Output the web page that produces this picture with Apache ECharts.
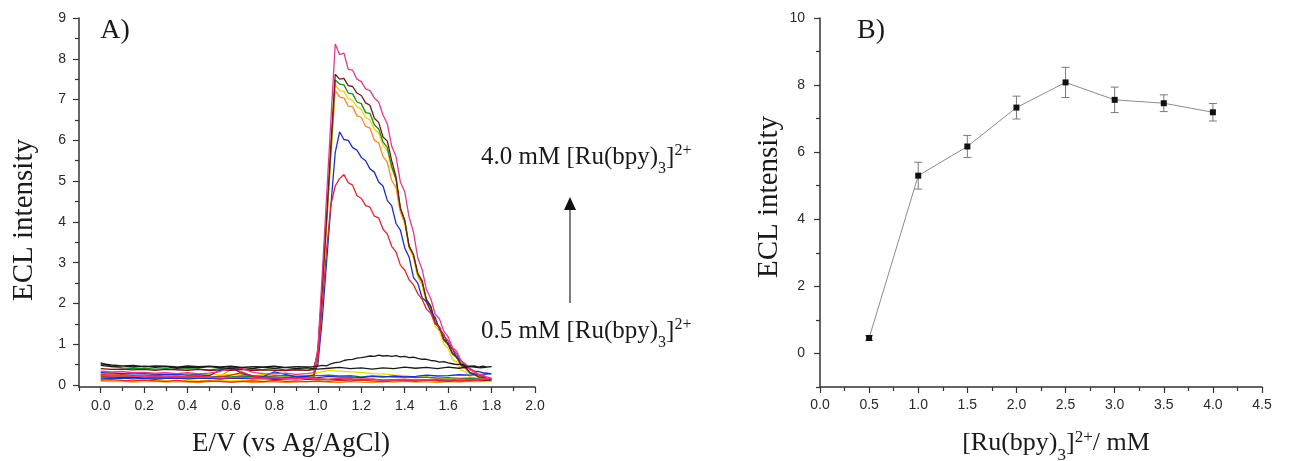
<!DOCTYPE html>
<html>
<head>
<meta charset="utf-8">
<script src="https://cdn.jsdelivr.net/npm/echarts@6/dist/echarts.min.js"></script>
<style>
  html, body { margin: 0; padding: 0; background: #fff; }
  #chart { width: 1292px; height: 461px; }
</style>
</head>
<body>
<div id="chart"></div>
<script>
// Sweep potential (V vs Ag/AgCl): forward scan 0 -> 1.8 V, then back to 0 V
const potential = [
  0.00,0.05,0.10,0.15,0.20,0.25,0.30,0.35,0.40,0.45,0.50,0.55,0.60,0.65,0.70,0.75,0.80,0.85,0.90,0.95,0.98,
  1.00,1.02,1.04,1.06,1.08,1.10,1.12,1.14,1.16,1.18,1.20,1.22,1.24,1.26,1.28,1.30,1.32,1.34,1.36,1.38,
  1.40,1.42,1.44,1.46,1.48,1.50,1.52,1.54,1.56,1.58,1.60,1.62,1.64,1.66,1.68,1.70,1.72,1.74,1.76,1.78,1.80,
  1.75,1.70,1.65,1.60,1.55,1.50,1.45,1.40,1.35,1.30,1.25,1.20,1.15,1.10,1.05,1.00,0.95,0.90,
  0.85,0.80,0.75,0.70,0.65,0.60,0.55,0.50,0.45,0.40,0.35,0.30,0.25,0.20,0.15,0.10,0.05,0.00
];

// ECL traces, one per [Ru(bpy)3]2+ concentration (same order as `potential`)
const ecl05 = [
  0.52,0.49,0.47,0.48,0.45,0.47,0.46,0.44,0.47,0.45,0.46,0.44,0.46,0.43,0.45,0.44,0.46,0.43,0.45,0.44,0.45,
  0.46,0.48,0.47,0.52,0.55,0.56,0.60,0.62,0.63,0.66,0.67,0.69,0.71,0.70,0.73,0.71,0.72,0.70,0.72,0.69,
  0.70,0.67,0.68,0.65,0.63,0.63,0.60,0.59,0.56,0.57,0.54,0.52,0.50,0.51,0.47,0.46,0.47,0.44,0.46,0.44,0.45,
  0.42,0.45,0.41,0.44,0.40,0.43,0.41,0.44,0.40,0.42,0.39,0.42,0.40,0.43,0.41,0.39,0.42,0.40,
  0.43,0.41,0.44,0.40,0.43,0.41,0.42,0.45,0.42,0.44,0.41,0.45,0.43,0.46,0.44,0.47,0.45,0.48
];
const ecl10 = [
  0.26,0.24,0.25,0.23,0.22,0.24,0.21,0.22,0.20,0.21,0.19,0.20,0.24,0.30,0.22,0.18,0.19,0.17,0.18,0.16,0.20,
  0.62,1.95,3.30,4.42,4.88,5.06,5.16,4.96,4.90,4.64,4.58,4.40,4.36,4.14,4.10,3.82,3.70,3.40,3.26,2.94,
  2.82,2.58,2.46,2.24,2.10,1.86,1.76,1.50,1.42,1.20,1.08,0.88,0.76,0.58,0.50,0.38,0.32,0.24,0.22,0.16,0.15,
  0.12,0.10,0.11,0.09,0.10,0.12,0.09,0.11,0.10,0.08,0.10,0.12,0.10,0.11,0.09,0.10,0.08,0.10,
  0.09,0.11,0.08,0.10,0.09,0.07,0.09,0.10,0.08,0.09,0.11,0.09,0.10,0.12,0.10,0.11,0.13,0.12
];
const ecl15 = [
  0.30,0.29,0.28,0.27,0.28,0.26,0.25,0.26,0.24,0.25,0.23,0.36,0.44,0.28,0.22,0.21,0.32,0.26,0.20,0.21,0.24,
  0.50,1.60,3.00,4.40,5.70,6.21,6.02,6.00,5.82,5.76,5.58,5.50,5.30,5.22,4.98,4.88,4.52,4.40,3.96,3.80,
  3.36,3.14,2.64,2.50,2.14,2.04,1.80,1.66,1.36,1.24,0.98,0.88,0.66,0.60,0.44,0.40,0.34,0.33,0.30,0.29,0.27,
  0.26,0.24,0.25,0.23,0.22,0.24,0.21,0.20,0.22,0.19,0.21,0.18,0.20,0.19,0.21,0.18,0.17,0.19,
  0.18,0.16,0.18,0.17,0.16,0.18,0.15,0.17,0.16,0.15,0.17,0.16,0.14,0.16,0.15,0.17,0.16,0.15
];
const ecl20 = [
  0.22,0.20,0.21,0.19,0.20,0.18,0.19,0.17,0.19,0.18,0.17,0.22,0.38,0.33,0.20,0.16,0.17,0.15,0.16,0.15,0.17,
  0.75,2.30,3.90,5.60,7.22,7.06,7.04,6.84,6.82,6.60,6.56,6.34,6.30,6.00,5.94,5.60,5.46,5.02,4.84,4.24,
  3.96,3.40,3.14,2.70,2.48,2.06,1.86,1.52,1.38,1.10,0.98,0.76,0.66,0.46,0.40,0.28,0.25,0.18,0.17,0.12,0.11,
  0.08,0.09,0.07,0.08,0.06,0.08,0.07,0.09,0.07,0.08,0.06,0.07,0.08,0.06,0.07,0.09,0.08,0.07,
  0.06,0.08,0.07,0.06,0.08,0.07,0.09,0.08,0.06,0.07,0.08,0.07,0.09,0.08,0.07,0.09,0.08,0.10
];
const ecl25 = [
  0.34,0.32,0.33,0.30,0.31,0.29,0.30,0.28,0.30,0.27,0.29,0.33,0.42,0.40,0.31,0.28,0.27,0.29,0.26,0.28,0.30,
  0.90,2.70,4.60,6.50,8.36,8.10,8.14,7.74,7.72,7.50,7.44,7.26,7.22,7.04,6.94,6.62,6.40,5.86,5.60,4.98,
  4.74,4.12,3.76,3.12,2.84,2.34,2.12,1.74,1.62,1.32,1.18,0.92,0.82,0.58,0.52,0.37,0.34,0.26,0.25,0.19,0.17,
  0.14,0.13,0.15,0.12,0.14,0.13,0.12,0.14,0.13,0.12,0.14,0.15,0.13,0.16,0.14,0.15,0.17,0.15,
  0.16,0.18,0.16,0.17,0.19,0.18,0.17,0.19,0.18,0.20,0.19,0.21,0.20,0.22,0.21,0.23,0.22,0.24
];
const ecl30 = [
  0.40,0.38,0.39,0.37,0.38,0.36,0.38,0.37,0.36,0.38,0.35,0.37,0.36,0.38,0.35,0.37,0.36,0.35,0.37,0.36,0.38,
  0.80,2.40,4.10,5.90,7.62,7.50,7.52,7.34,7.32,7.16,7.10,6.92,6.86,6.54,6.44,6.08,5.98,5.50,5.10,4.34,
  4.04,3.40,3.20,2.74,2.56,2.08,1.92,1.52,1.42,1.12,1.02,0.78,0.70,0.50,0.44,0.30,0.27,0.20,0.19,0.14,0.12,
  0.11,0.12,0.10,0.12,0.11,0.13,0.12,0.11,0.13,0.12,0.14,0.13,0.15,0.14,0.13,0.15,0.14,0.16,
  0.15,0.14,0.16,0.15,0.17,0.16,0.15,0.17,0.16,0.18,0.17,0.16,0.18,0.17,0.19,0.18,0.20,0.19
];
const ecl35 = [
  0.55,0.45,0.42,0.40,0.41,0.39,0.40,0.38,0.40,0.39,0.37,0.40,0.38,0.39,0.37,0.38,0.40,0.37,0.38,0.36,0.38,
  0.78,2.35,4.00,5.75,7.48,7.38,7.36,7.16,7.14,6.94,6.90,6.68,6.66,6.38,6.28,5.96,5.82,5.36,5.04,4.32,
  4.04,3.42,3.20,2.72,2.54,2.10,1.94,1.54,1.42,1.10,1.00,0.76,0.68,0.48,0.42,0.30,0.27,0.20,0.19,0.15,0.14,
  0.15,0.17,0.16,0.18,0.17,0.19,0.18,0.20,0.19,0.21,0.22,0.20,0.23,0.22,0.24,0.23,0.22,0.21,
  0.23,0.22,0.20,0.21,0.22,0.20,0.21,0.19,0.20,0.21,0.19,0.20,0.22,0.21,0.23,0.22,0.24,0.23
];
const ecl40 = [
  0.32,0.30,0.28,0.29,0.27,0.28,0.26,0.27,0.25,0.27,0.26,0.24,0.26,0.25,0.23,0.25,0.24,0.22,0.24,0.23,0.25,
  0.76,2.30,3.95,5.65,7.36,7.22,7.20,7.02,6.98,6.82,6.76,6.56,6.50,6.28,6.18,5.88,5.74,5.30,5.04,4.30,
  3.98,3.36,3.12,2.64,2.44,2.00,1.82,1.44,1.32,1.00,0.90,0.62,0.56,0.36,0.32,0.20,0.18,0.12,0.11,0.09,0.08,
  0.08,0.11,0.12,0.15,0.16,0.19,0.20,0.23,0.24,0.27,0.28,0.31,0.32,0.34,0.36,0.30,0.20,0.16,
  0.14,0.12,0.13,0.11,0.12,0.10,0.11,0.12,0.10,0.11,0.09,0.10,0.11,0.09,0.10,0.11,0.10,0.12
];

// Peak ECL intensity vs concentration
const concentration = [0.5, 1.0, 1.5, 2.0, 2.5, 3.0, 3.5, 4.0];
const meanIntensity = [0.46, 5.30, 6.17, 7.33, 8.08, 7.56, 7.46, 7.19];
const stdDev = [0.07, 0.40, 0.33, 0.34, 0.45, 0.38, 0.25, 0.26];

// Axis tick positions and labels
const potentialTicks = [0.0, 0.2, 0.4, 0.6, 0.8, 1.0, 1.2, 1.4, 1.6, 1.8, 2.0];
const potentialMinorTicks = [-0.1, 0.1, 0.3, 0.5, 0.7, 0.9, 1.1, 1.3, 1.5, 1.7, 1.9];
const intensityTicksA = [0, 1, 2, 3, 4, 5, 6, 7, 8, 9];
const intensityMinorTicksA = [0.5, 1.5, 2.5, 3.5, 4.5, 5.5, 6.5, 7.5, 8.5];
const concTicks = [0.0, 0.5, 1.0, 1.5, 2.0, 2.5, 3.0, 3.5, 4.0, 4.5];
const concMinorTicks = [0.25, 0.75, 1.25, 1.75, 2.25, 2.75, 3.25, 3.75, 4.25];
const intensityTicksB = [0, 2, 4, 6, 8, 10];
const intensityMinorTicksB = [-1, 1, 3, 5, 7, 9];

const SERIF = '"Liberation Serif", "Times New Roman", serif';
const SANS = '"Liberation Sans", Arial, sans-serif';
const AXIS_COLOR = '#333';
const TEXT_COLOR = '#1a1a1a';

function mainAxis(gridIndex, position, min, max, ticks, fmt, margin) {
  return {
    type: 'value', gridIndex, position, offset: 0, min, max,
    axisLine: { show: true, onZero: false, lineStyle: { color: AXIS_COLOR, width: 1.5 } },
    axisTick: { show: true, inside: false, length: 6, customValues: ticks, lineStyle: { color: AXIS_COLOR, width: 1.2 } },
    axisLabel: { show: true, customValues: ticks, formatter: fmt, margin, color: '#2a2a2a', fontFamily: SANS, fontSize: 14 },
    splitLine: { show: false }
  };
}
function minorAxis(gridIndex, position, min, max, ticks) {
  return {
    type: 'value', gridIndex, position, offset: 0, min, max,
    axisLine: { show: false, onZero: false },
    axisTick: { show: true, inside: false, length: 4, customValues: ticks, lineStyle: { color: AXIS_COLOR, width: 1.2 } },
    axisLabel: { show: false },
    splitLine: { show: false }
  };
}

const traces = [
  { name: '2.0 mM', data: ecl20, color: '#ff8a1c' },
  { name: '4.0 mM', data: ecl40, color: '#f2d400' },
  { name: '3.5 mM', data: ecl35, color: '#178a22' },
  { name: '3.0 mM', data: ecl30, color: '#7a1414' },
  { name: '1.5 mM', data: ecl15, color: '#1f2ec8' },
  { name: '1.0 mM', data: ecl10, color: '#e3262a' },
  { name: '2.5 mM', data: ecl25, color: '#e23a90' },
  { name: '0.5 mM', data: ecl05, color: '#1a1a1a' }
];

const traceSeries = traces.map(t => ({
  type: 'line', name: t.name, xAxisIndex: 0, yAxisIndex: 0,
  data: potential.map((e, i) => [e, t.data[i]]),
  showSymbol: false, symbol: 'none', smooth: false,
  lineStyle: { color: t.color, width: 1.3 },
  itemStyle: { color: t.color },
  z: 2
}));

const errorBarSeries = {
  type: 'custom', name: 'sd', xAxisIndex: 2, yAxisIndex: 2,
  data: concentration.map((c, i) => [c, meanIntensity[i], stdDev[i]]),
  encode: { x: 0, y: 1 },
  renderItem: function (params, api) {
    const x = api.value(0), y = api.value(1), e = api.value(2);
    const top = api.coord([x, y + e]);
    const bot = api.coord([x, y - e]);
    const hw = 4;
    const st = { stroke: '#7a7a7a', lineWidth: 1 };
    return {
      type: 'group',
      children: [
        { type: 'line', shape: { x1: top[0], y1: top[1], x2: bot[0], y2: bot[1] }, style: st },
        { type: 'line', shape: { x1: top[0] - hw, y1: top[1], x2: top[0] + hw, y2: top[1] }, style: st },
        { type: 'line', shape: { x1: bot[0] - hw, y1: bot[1], x2: bot[0] + hw, y2: bot[1] }, style: st }
      ]
    };
  },
  z: 3
};

const meanSeries = {
  type: 'line', name: 'mean', xAxisIndex: 2, yAxisIndex: 2,
  data: concentration.map((c, i) => [c, meanIntensity[i]]),
  symbol: 'rect', symbolSize: 6, showSymbol: true,
  itemStyle: { color: '#111' },
  lineStyle: { color: '#8c8c8c', width: 1 },
  z: 4
};

// Sub/superscript tokens: both hang from the top of a 44px line box,
// the top padding sets how far down each one sits.
const LINE_H = 44;
const richSubSup = (size) => ({
  sub: { fontFamily: SERIF, fontSize: size, verticalAlign: 'top', padding: [26, 0, 0, 0], fill: TEXT_COLOR },
  sup: { fontFamily: SERIF, fontSize: size, verticalAlign: 'top', padding: [8, 0, 0, 0], fill: TEXT_COLOR }
});

function label(x, y, text, size, opts) {
  return Object.assign({
    type: 'text', x, y, silent: true,
    style: Object.assign({
      text, fontFamily: SERIF, fontSize: size, fill: TEXT_COLOR,
      align: 'center', verticalAlign: 'middle'
    }, (opts && opts.style) || {})
  }, (opts && opts.el) || {});
}

const option = {
  animation: false,
  backgroundColor: '#ffffff',
  grid: [
    { left: 79, top: 18, width: 456, height: 369, containLabel: false, outerBoundsMode: 'none' },
    { left: 820, top: 18, width: 442, height: 369, containLabel: false, outerBoundsMode: 'none' }
  ],
  xAxis: [
    mainAxis(0, 'bottom', -0.1, 2.0, potentialTicks, v => v.toFixed(1), 12),
    minorAxis(0, 'bottom', -0.1, 2.0, potentialMinorTicks),
    mainAxis(1, 'bottom', 0, 4.5, concTicks, v => v.toFixed(1), 11),
    minorAxis(1, 'bottom', 0, 4.5, concMinorTicks)
  ],
  yAxis: [
    mainAxis(0, 'left', -0.05, 9, intensityTicksA, v => String(Math.round(v)), 13),
    minorAxis(0, 'left', -0.05, 9, intensityMinorTicksA),
    mainAxis(1, 'left', -1, 10, intensityTicksB, v => String(Math.round(v)), 15),
    minorAxis(1, 'left', -1, 10, intensityMinorTicksB)
  ],
  series: traceSeries.concat([errorBarSeries, meanSeries]),
  graphic: [
    label(115, 31, 'A)', 28),
    label(871, 31, 'B)', 28),
    label(24, 220, 'ECL intensity', 29, { el: { rotation: Math.PI / 2 } }),
    label(769, 197, 'ECL intensity', 29, { el: { rotation: Math.PI / 2 } }),
    label(291, 444, 'E/V (vs Ag/AgCl)', 27),
    label(1056, 443, '[Ru(bpy){sub|3}]{sup|2+}/ mM', 26, { style: { lineHeight: LINE_H, rich: richSubSup(17) } }),
    label(481, 157, '4.0 mM [Ru(bpy){sub|3}]{sup|2+}', 25, { style: { align: 'left', lineHeight: LINE_H, rich: richSubSup(16) } }),
    label(481, 331, '0.5 mM [Ru(bpy){sub|3}]{sup|2+}', 25, { style: { align: 'left', lineHeight: LINE_H, rich: richSubSup(16) } }),
    { type: 'line', silent: true, shape: { x1: 570, y1: 303, x2: 570, y2: 208 }, style: { stroke: '#555', lineWidth: 1.5 } },
    { type: 'polygon', silent: true, shape: { points: [[564, 210], [576, 210], [570, 197]] }, style: { fill: '#111' } }
  ]
};

const chart = echarts.init(document.getElementById('chart'), null, { renderer: 'canvas' });
chart.setOption(option);
</script>
</body>
</html>
